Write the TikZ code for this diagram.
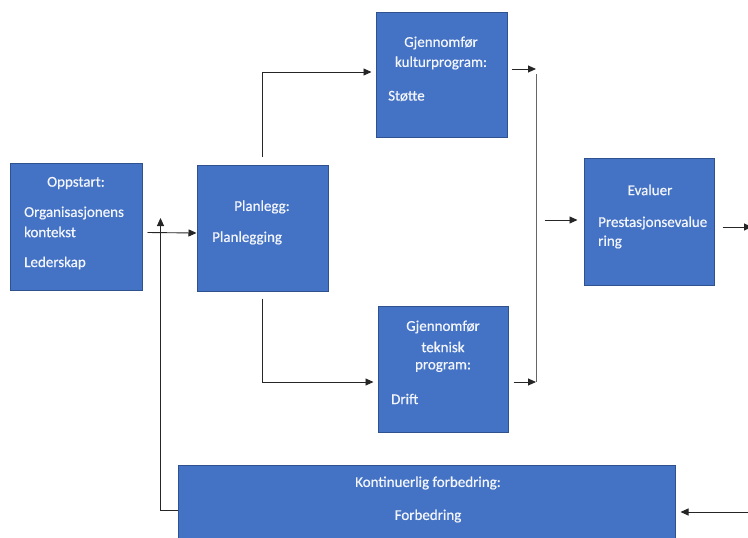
\documentclass[tikz,border=0pt]{standalone}
\usepackage{fontspec}
\setmainfont{Carlito}[FakeBold=0.6]
\usetikzlibrary{arrows.meta,calc}
\definecolor{boxfill}{HTML}{4472C4}
\definecolor{boxline}{HTML}{2F528F}
\definecolor{boxtext}{HTML}{F2F5FB}
\tikzset{
  box/.style={draw=boxline, line width=1pt, fill=boxfill, inner sep=0pt},
  txt/.style={text=boxtext, font=\fontsize{15}{18}\selectfont, inner sep=0pt},
  arr/.style={draw=black!85, line width=0.9pt, -{Triangle[length=8pt,width=7pt]}},
  ln/.style={draw=black!60, line width=1pt}
}
\begin{document}
\begin{tikzpicture}[x=1pt,y=-1pt]
\useasboundingbox (0,0) rectangle (748,538);

% process boxes
\node[box, minimum width=132, minimum height=127] (opp)  at (76,226.5) {};
\node[box, minimum width=131, minimum height=126] (plan) at (262.5,228) {};
\node[box, minimum width=131, minimum height=125] (kult) at (441.5,74.5) {};
\node[box, minimum width=130, minimum height=126] (tek)  at (443,369) {};
\node[box, minimum width=130, minimum height=127] (eval) at (649,221.5) {};
\node[box, minimum width=497, minimum height=100] (kont) at (426.5,515) {};

% box texts
\node[txt] (t1) at (76,183) {Oppstart:};
\node[txt, anchor=west] (t2) at (24,213) {Organisasjonens};
\node[txt, anchor=west] (t3) at (24,232) {kontekst};
\node[txt, anchor=west] (t4) at (24,263) {Lederskap};

\node[txt] (t5) at (262,207) {Planlegg:};
\node[txt, anchor=west] (t6) at (212,238) {Planlegging};

\node[txt] (t7) at (441,43) {Gjennomfør};
\node[txt] (t8) at (441,63) {kulturprogram:};
\node[txt, anchor=west] (t9) at (388,96) {Støtte};

\node[txt] (t10) at (443,327) {Gjennomfør};
\node[txt] (t11) at (443,347) {teknisk};
\node[txt] (t12) at (443,367) {program:};
\node[txt, anchor=west] (t13) at (391,399) {Drift};

\node[txt] (t14) at (650,190) {Evaluer};
\node[txt, anchor=west] (t15) at (598,223) {Prestasjonsevalue};
\node[txt, anchor=west] (t16) at (598,242) {ring};

\node[txt] (t17) at (428,483) {Kontinuerlig forbedring:};
\node[txt] (t18) at (428,516) {Forbedring};

% junction points and free ends
\coordinate (mtop) at (536,69);
\coordinate (mbot) at (536,382);
\coordinate (out) at (752,227);
\coordinate (kin) at (752,512);

% connectors
\draw[arr] ($(opp.east)+(5,6)$) -- ($(plan.west)+(0,5)$);
\draw[arr] ($(plan.north)+(0,-8)$) |- ($(kult.west)+(-4,-2.5)$);
\draw[arr] ($(plan.south)+(0,7)$) |- ($(tek.west)+(-4,13)$);
\draw[arr] ($(kult.east)+(4,-5.5)$) -- (mtop);
\draw[arr] ($(tek.east)+(5,13)$) -- (mbot);
\draw[ln] ($(mtop)+(0,5)$) -- (mbot);
\draw[arr] ($(eval.west)+(-39,-1.5)$) -- ($(eval.west)+(-6,-1.5)$);
\draw[arr] ($(eval.east)+(8,5.5)$) -- (out);
\draw[arr] (kin) -- ($(kont.east)+(5,-3)$);
\draw[arr] ($(kont.west)+(0,-5)$) -| ($(opp.east)+(18,-8.5)$);
\end{tikzpicture}
\end{document}
